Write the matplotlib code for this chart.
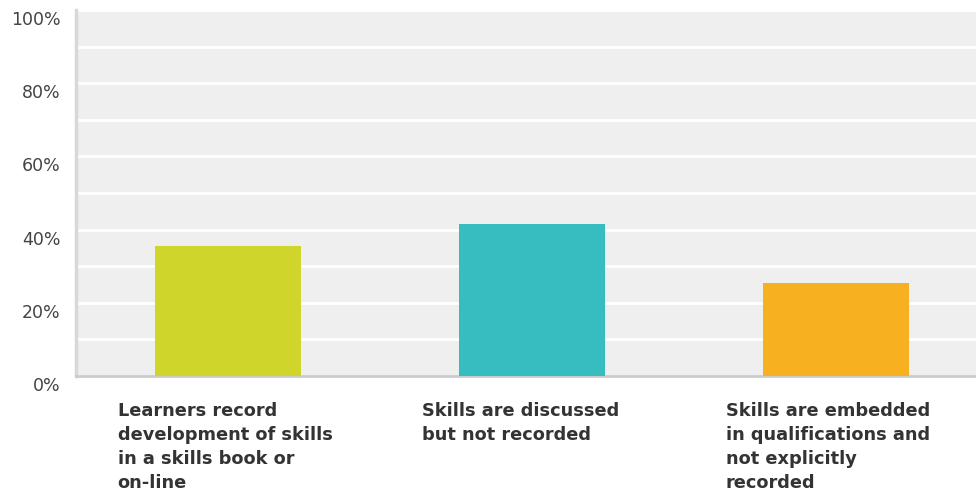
import numpy as np
import matplotlib.pyplot as plt
import matplotlib.transforms as mtransforms

categories = [
    "Learners record\ndevelopment of skills\nin a skills book or\non-line",
    "Skills are discussed\nbut not recorded",
    "Skills are embedded\nin qualifications and\nnot explicitly\nrecorded",
]
values = [35.5, 41.4, 25.5]
colors = ["#CFD52A", "#35BDBF", "#F7B120"]
yticks = [0, 20, 40, 60, 80, 100]

plt.rcParams['font.family'] = ['DejaVu Sans']

fig = plt.figure(figsize=(9.76, 4.92), dpi=100)
W, H = 976, 492
# plot area runs a little past the right edge of the figure
ax = fig.add_axes([76 / W, (H - 376) / H, 912 / W, 366 / H])
ax.set_facecolor("#EFEFEF")

x = np.arange(len(values))
ax.bar(x, values, width=0.48, color=colors, zorder=3)

ax.set_xlim(-0.5, 2.5)
ax.set_ylim(0, 100)
ax.set_yticks(yticks)
ax.set_yticklabels([f"{v}%" for v in yticks], fontsize=12.5, color="#444444")
ax.set_yticks(np.arange(10, 100, 20), minor=True)
ax.grid(axis="y", which="both", color="white", linewidth=2, zorder=1)
ax.tick_params(axis="y", which="both", length=0, pad=11)
ax.set_xticks([])

# labels sit a bit below their gridlines
offset = mtransforms.ScaledTranslation(0, -8 / 100, fig.dpi_scale_trans)
for lbl in ax.get_yticklabels():
    lbl.set_transform(lbl.get_transform() + offset)

for s in ["top", "right"]:
    ax.spines[s].set_visible(False)
ax.spines["left"].set_color("#D8D8D8")
ax.spines["left"].set_linewidth(2.5)
ax.spines["bottom"].set_color("#CCCCCC")
ax.spines["bottom"].set_linewidth(2)

for i, cat in enumerate(categories):
    ax.text(i - 0.363, -7, cat, ha="left", va="top", fontsize=12.8,
            fontweight="bold", color="#333333", linespacing=1.43,
            clip_on=False)

fig.savefig("out.png", dpi=100, facecolor="white")
